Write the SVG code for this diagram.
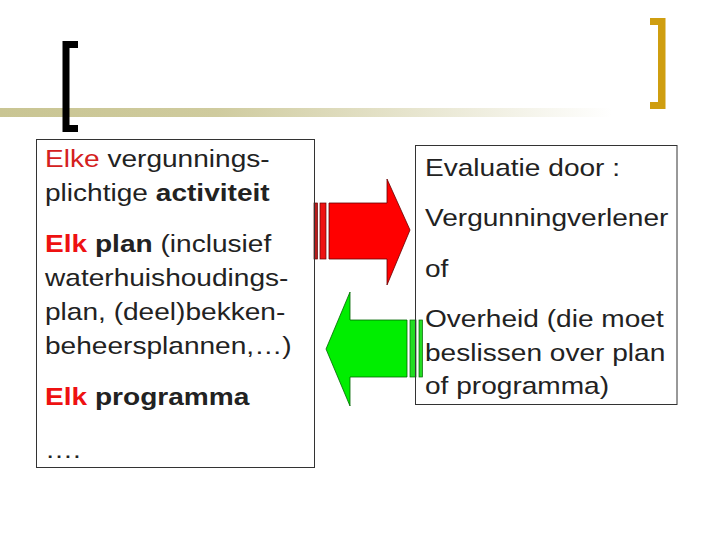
<svg xmlns="http://www.w3.org/2000/svg" width="720" height="540" viewBox="0 0 720 540">
<defs>
<linearGradient id="band" x1="0" y1="0" x2="720" y2="0" gradientUnits="userSpaceOnUse">
<stop offset="0" stop-color="#c9c593"/>
<stop offset="0.3" stop-color="#cfcb9e"/>
<stop offset="0.85" stop-color="#ffffff"/>
</linearGradient>
<style>
.t{font-family:"Liberation Sans",Arial,sans-serif;font-size:24px;fill:#222}
.b{font-weight:bold}
.r{fill:#d42020}
.rb{fill:#ee1111;font-weight:bold}
.box{fill:none;stroke:#333;stroke-width:1}
</style>
</defs>
<rect width="720" height="540" fill="#fff"/>
<g id="decor">
<rect x="0" y="108" width="720" height="9" fill="url(#band)"/>
<path d="M62.5,41 H78 V48 H69.5 V125 H78 V132 H62.5 Z" fill="#000"/>
<path d="M665.5,18 H650 V25 H658 V102 H650 V109 H665.5 Z" fill="#cf9e10"/>
</g>
<g id="connectors">
<g id="arrow-right">
<rect x="314" y="203" width="3.5" height="56" fill="#b81c1c" stroke="#600" stroke-width="0.7"/>
<rect x="320" y="203" width="6" height="56" fill="#ee1111" stroke="#600" stroke-width="0.7"/>
<polygon points="329,203 387,203 387,179 410,230 387,285 387,259 329,259" fill="#ff0000" stroke="#600" stroke-width="0.8"/>
</g>
<g id="arrow-left">
<rect x="410" y="320" width="6" height="57" fill="#22dd22" stroke="#060" stroke-width="0.7"/>
<rect x="419" y="320" width="3.5" height="57" fill="#22dd22" stroke="#060" stroke-width="0.7"/>
<polygon points="407,320 350,320 350,292 326,349 350,406 350,377 407,377" fill="#00ee00" stroke="#060" stroke-width="0.8"/>
</g>
</g>
<g id="left-box">
<rect class="box" x="36.5" y="139.5" width="278" height="328"/>
<g transform="translate(45 0) scale(1.17 1)">
<text class="t" x="0" y="167"><tspan class="r">Elke</tspan> vergunnings-</text>
<text class="t" x="0" y="201">plichtige <tspan class="b">activiteit</tspan></text>
<text class="t" x="0" y="252"><tspan class="rb">Elk</tspan><tspan class="b"> plan</tspan> (inclusief</text>
<text class="t" x="0" y="286">waterhuishoudings-</text>
<text class="t" x="0" y="320">plan, (deel)bekken-</text>
<text class="t" x="0" y="354">beheersplannen,…)</text>
<text class="t" x="0" y="405"><tspan class="rb">Elk</tspan><tspan class="b"> programma</tspan></text>
<text class="t" x="0" y="458">….</text>
</g>
</g>
<g id="right-box">
<rect class="box" x="415.5" y="145.5" width="261.5" height="259"/>
<g transform="translate(425 0) scale(1.17 1)">
<text class="t" x="0" y="176">Evaluatie door :</text>
<text class="t" x="0" y="226">Vergunningverlener</text>
<text class="t" x="0" y="277">of</text>
<text class="t" x="0" y="327">Overheid (die moet</text>
<text class="t" x="0" y="361">beslissen over plan</text>
<text class="t" x="0" y="394">of programma)</text>
</g>
</g>
</svg>
